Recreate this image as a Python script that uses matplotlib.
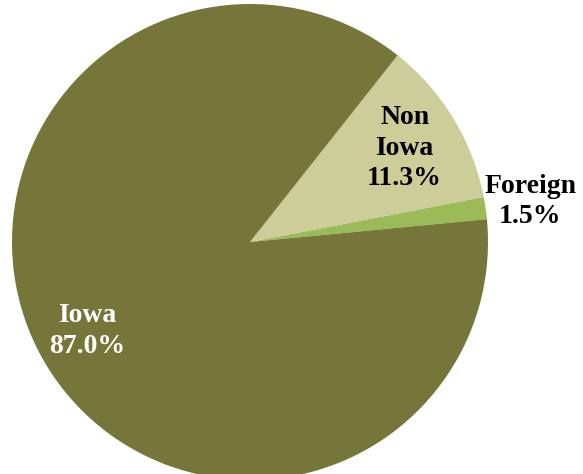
import matplotlib.pyplot as plt
import numpy as np

labels = ['Foreign', 'Non\nIowa', 'Iowa']
shares = [1.5, 11.3, 87.0]
colors = ['#9BBB59', '#CDCD9A', '#77763A']
text_colors = ['black', 'black', 'white']
label_dist = [1.19, 0.76, 0.78]

fig = plt.figure(figsize=(5.83, 4.74), dpi=100)
ax = fig.add_axes([0, 0, 1, 1])
wedges, _ = ax.pie(shares, colors=colors, startangle=5.5, counterclock=True,
                   center=(250, 232), radius=238, frame=True)
ax.set_xlim(0, 583)
ax.set_ylim(0, 474)
ax.set_aspect('equal')
ax.axis('off')

for w, lab, val, c, d in zip(wedges, labels, shares, text_colors, label_dist):
    ang = np.deg2rad((w.theta1 + w.theta2) / 2)
    x = w.center[0] + d * w.r * np.cos(ang)
    y = w.center[1] + d * w.r * np.sin(ang)
    ax.text(x, y, f"{lab}\n{val:.1f}%", ha='center', va='center', color=c,
            fontsize=20, fontweight='bold', family='Liberation Serif',
            linespacing=1.3)

plt.savefig('out.png', dpi=100)
